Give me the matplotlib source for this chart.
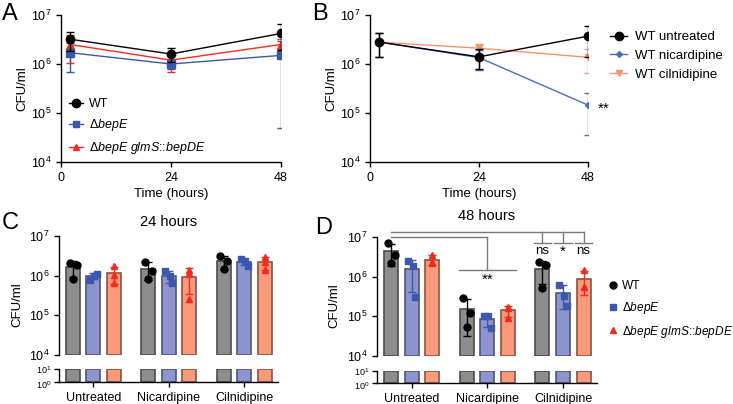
import matplotlib
matplotlib.use("Agg")
import matplotlib.pyplot as plt
import matplotlib.transforms as mtrans
import numpy as np
from matplotlib.lines import Line2D

plt.rcParams["font.family"] = ["Liberation Sans", "DejaVu Sans"]
plt.rcParams["mathtext.fontset"] = "custom"
plt.rcParams["mathtext.rm"] = "Liberation Sans"
plt.rcParams["mathtext.it"] = "Liberation Sans:italic"
plt.rcParams["axes.linewidth"] = 1.0
plt.rcParams["xtick.major.width"] = 1.0
plt.rcParams["ytick.major.width"] = 1.0
plt.rcParams["xtick.major.size"] = 3.5
plt.rcParams["ytick.major.size"] = 3.5
plt.rcParams["xtick.labelsize"] = 9
plt.rcParams["ytick.labelsize"] = 9

# ---- data -----------------------------------------------------------------
hours = [2, 24, 48]

# panel A: strains, mean / SD of CFU/ml
a_labels = ["WT", "Δ$\\mathit{bepE}$", "Δ$\\mathit{bepE}$ $\\mathit{glmS}$::$\\mathit{bepDE}$"]
a_wt_mean = [3.2e6, 1.6e6, 4.2e6]
a_wt_sd = [1.4e6, 0.5e6, 2.3e6]
a_bep_mean = [1.7e6, 1.0e6, 1.5e6]
a_bep_sd = [1.0e6, 0.2e6, 1.45e6]
a_comp_mean = [2.5e6, 1.2e6, 2.5e6]
a_comp_sd = [1.45e6, 0.5e6, 0.75e6]

# panel B: WT with drugs
b_labels = ["WT untreated", "WT nicardipine", "WT cilnidipine"]
b_untr_mean = [2.8e6, 1.4e6, 3.7e6]
b_untr_sd = [1.4e6, 0.6e6, 2.3e6]
b_nica_mean = [2.8e6, 1.35e6, 1.45e5]
b_nica_sd = [1.4e6, 0.6e6, 1.1e5]
b_cil_mean = [2.8e6, 2.1e6, 1.37e6]
b_cil_sd = [1.4e6, 0.5e6, 0.7e6]

# panels C / D: replicate CFU/ml, [treatment][replicate]
treatments = ["Untreated", "Nicardipine", "Cilnidipine"]
strain_labels = ["WT", "Δ$\\mathit{bepE}$", "Δ$\\mathit{bepE}$ $\\mathit{glmS}$::$\\mathit{bepDE}$"]

c_wt = [[2.1e6, 1.9e6, 0.82e6], [2.26e6, 1.34e6, 0.84e6], [3.2e6, 2.3e6, 1.5e6]]
c_bep = [[0.8e6, 1.0e6, 1.12e6], [1.3e6, 1.0e6, 0.65e6], [2.6e6, 2.4e6, 1.8e6]]
c_comp = [[1.72e6, 1.06e6, 0.65e6], [1.4e6, 1.15e6, 0.26e6], [3.0e6, 2.2e6, 1.35e6]]

d_wt = [[7.1e6, 3.6e6, 2.24e6], [2.9e5, 1.2e5, 5.3e4], [2.3e6, 1.92e6, 5.3e5]]
d_bep = [[2.47e6, 1.85e6, 0.30e6], [1.0e5, 1.0e5, 5.0e4], [6.3e5, 3.3e5, 1.78e5]]
d_comp = [[3.6e6, 2.3e6, 2.2e6], [1.75e5, 1.58e5, 8.9e4], [1.44e6, 5.6e5, 5.6e5]]

d_cil_sig = ["ns", "*", "ns"]

# ---- style ----------------------------------------------------------------
LINE_COL = ["black", "#3b57a9", "#ff2a1a"]
B_COL = ["black", "#4a6cc4", "#f7946e"]
BAR_COL = ["#8d8d8d", "#8e94cd", "#f99a7a"]
BAR_EDGE = ["#4d4d4d", "#50557a", "#8a5444"]
PT_COL = ["black", "#3c58ad", "#f5281e"]
PT_MARK = ["o", "s", "^"]
GROUP_STEP = 3.68
JITTER = [[-0.18, 0.2, 0.0], [-0.2, 0.05, 0.2], [0.0, 0.0, 0.0]]

W, H = 733, 404
fig = plt.figure(figsize=(W / 100, H / 100), dpi=100)


def add_ax(l, t, r, b):
    return fig.add_axes([l / W, 1 - b / H, (r - l) / W, (b - t) / H])


def fig_pt(x, y):
    return (x / W, 1 - y / H)


def log_axis(ax, lo, hi):
    ax.set_yscale("log")
    ax.set_ylim(lo, hi)
    ax.yaxis.set_minor_locator(matplotlib.ticker.NullLocator())
    for s in ("top", "right"):
        ax.spines[s].set_visible(False)


def line_handles(colors, marks, sizes):
    return [Line2D([], [], color=c, marker=m, ms=s, lw=1)
            for c, m, s in zip(colors, marks, sizes)]


LEG = dict(bbox_transform=fig.transFigure, frameon=False, borderpad=0, borderaxespad=0)

# ---- panel A --------------------------------------------------------------
axA = add_ax(61, 15, 281, 162)
log_axis(axA, 1e4, 1e7)
series = [(a_wt_mean, a_wt_sd), (a_bep_mean, a_bep_sd), (a_comp_mean, a_comp_sd)]
marks = ["o", "s", "^"]
for i, (m, sd) in enumerate(series):
    axA.errorbar(hours, m, yerr=sd, color=LINE_COL[i], marker=marks[i], ms=6,
                 lw=1, capsize=3, capthick=1, zorder=3 - i)
axA.set_xlim(0, 48)
axA.set_xticks([0, 24, 48])
axA.set_xlabel("Time (hours)", fontsize=9.5, labelpad=3)
axA.set_ylabel("CFU/ml", fontsize=9.5, labelpad=2)
axA.legend(line_handles(LINE_COL, marks, [6, 5, 5]), a_labels, loc="lower left",
           bbox_to_anchor=fig_pt(69, 156), fontsize=9, labelspacing=0.55,
           handlelength=1.1, handletextpad=0.5, **LEG)

# ---- panel B --------------------------------------------------------------
axB = add_ax(370, 15, 588, 162)
log_axis(axB, 1e4, 1e7)
series = [(b_untr_mean, b_untr_sd), (b_nica_mean, b_nica_sd), (b_cil_mean, b_cil_sd)]
marks = ["o", "D", "v"]
sizes = [6, 3, 5]
zo = [5, 4, 3]
for i, (m, sd) in enumerate(series):
    axB.errorbar(hours, m, yerr=sd, color=B_COL[i], marker=marks[i], ms=sizes[i],
                 lw=1, capsize=3, capthick=1, zorder=zo[i])
axB.set_xlim(0, 48)
axB.set_xticks([0, 24, 48])
axB.set_xlabel("Time (hours)", fontsize=9.5, labelpad=3)
axB.set_ylabel("CFU/ml", fontsize=9.5, labelpad=2)
axB.annotate("**", (48, b_nica_mean[2]), xytext=(7, -3), textcoords="offset points",
             fontsize=11, va="center", ha="left")
axB.legend(line_handles(B_COL, marks, sizes), b_labels, loc="upper left",
           bbox_to_anchor=fig_pt(610, 31), fontsize=9.5, labelspacing=0.5,
           handlelength=1.3, handletextpad=0.6, **LEG)


# ---- bar panels -----------------------------------------------------------
def bar_panel(l, r, top_t, top_b, low_t, low_b, data, title):
    ax = add_ax(l, top_t, r, top_b)
    axl = add_ax(l, low_t, r, low_b)
    log_axis(ax, 1e4, 1e7)
    log_axis(axl, 1, 10)
    axl.set_yticks([1, 10])
    axl.tick_params(axis="y", labelsize=6.5, pad=2)
    # nudge the bottom label of the short lower segment down a little
    fig.canvas.draw()
    for lab, dy in zip(axl.get_yticklabels(), (-2.0, 0.0)):
        lab.set_transform(lab.get_transform() +
                          mtrans.ScaledTranslation(0, dy / 100, fig.dpi_scale_trans))
    ax.spines["bottom"].set_visible(False)
    ax.tick_params(axis="x", bottom=False, labelbottom=False)
    xlim = (-1.68, 2 * GROUP_STEP + 1.65)
    centers = np.arange(len(treatments)) * GROUP_STEP
    for a in (ax, axl):
        a.set_xlim(*xlim)
    for s_i, reps in enumerate(data):
        for g, vals in enumerate(reps):
            x = centers[g] + (s_i - 1)
            mean = np.mean(vals)
            sd = np.std(vals, ddof=1)
            ax.bar(x, mean - 1e4, bottom=1e4, width=0.68, color=BAR_COL[s_i],
                   edgecolor=BAR_EDGE[s_i], lw=1.2, zorder=2)
            axl.bar(x, 9, bottom=1, width=0.68, color=BAR_COL[s_i],
                    edgecolor=BAR_EDGE[s_i], lw=1.2, zorder=2)
            ax.errorbar(x, mean, yerr=sd, color=PT_COL[s_i], lw=1, capsize=3,
                        capthick=1, zorder=3)
            xs = x + np.array(JITTER[s_i]) * 0.9
            ax.plot(xs, vals, ls="none", marker=PT_MARK[s_i], ms=5,
                    color=PT_COL[s_i], zorder=4, clip_on=False)
    axl.set_xticks(centers)
    axl.set_xticklabels(treatments, fontsize=9)
    ax.set_ylabel("CFU/ml", fontsize=9.5)
    ax.set_title(title, fontsize=10.5, pad=7)
    return ax, axl, centers


axC, axCl, cC = bar_panel(59, 278, 236, 355, 369, 382, [c_wt, c_bep, c_comp], "24 hours")
axD, axDl, cD = bar_panel(377, 597, 237, 356, 371, 383, [d_wt, d_bep, d_comp], "48 hours")
axC.yaxis.set_label_coords((23 - 59) / (278 - 59), 0.42)
axD.yaxis.set_label_coords((340 - 377) / (597 - 377), 0.42)
axD.set_title("48 hours", fontsize=10.5, pad=12)

# significance brackets (panel D)
BR = dict(color="#7a7a7a", lw=1, clip_on=False, zorder=5)
x_first = cD[0] - 1
x_last = cD[2] + 1
axD.plot([x_first, x_last], [1.33e7, 1.33e7], **BR)
axD.plot([x_first, cD[1]], [1.02e7, 1.02e7], **BR)
axD.plot([cD[1], cD[1]], [1.02e7, 1.5e6], **BR)
axD.plot([cD[1] - 1.37, cD[1] + 1.37], [1.5e6, 1.5e6], **BR)
axD.text(cD[1], 8.2e5, "**", ha="center", va="center", fontsize=11)
for k, lab in enumerate(d_cil_sig):
    xk = cD[2] + k - 1
    axD.plot([xk, xk], [1.33e7, 6.9e6], **BR)
    axD.plot([xk - 0.42, xk + 0.42], [6.9e6, 6.9e6], **BR)
    axD.text(xk, 4.4e6 if lab == "ns" else 4.2e6, lab, ha="center", va="center",
             fontsize=9.5 if lab == "ns" else 11)

handles = [Line2D([], [], ls="none", marker=PT_MARK[i], ms=5, color=PT_COL[i])
           for i in range(3)]
axD.legend(handles, strain_labels, loc="upper left", bbox_to_anchor=fig_pt(608, 280),
           fontsize=8.6, labelspacing=0.65, handlelength=0.8, handletextpad=0.4, **LEG)

# panel letters
for s, x, y in [("A", 2, 3), ("B", 312, 3), ("C", 2, 212), ("D", 315, 217)]:
    fig.text(x / W, 1 - y / H, s, fontsize=17, va="top", ha="left")

fig.savefig("out.png", dpi=100)
